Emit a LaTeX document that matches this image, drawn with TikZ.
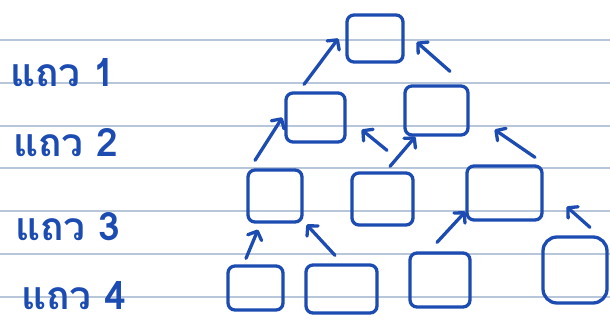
\documentclass[tikz,border=0pt]{standalone}
\usepackage{fontspec}
\newfontfamily\thaifont[Script=Thai]{Loma}
\usetikzlibrary{arrows.meta}
\definecolor{ink}{RGB}{28,76,178}
\definecolor{rule}{RGB}{184,198,218}
\begin{document}
\begin{tikzpicture}[x=1pt,y=-1pt,
  ruleline/.style={rule,line width=1.3pt},
  bx/.style={draw=ink,line width=3.3pt,rounded corners=7pt,inner sep=0pt},
  arr/.style={ink,line width=3.3pt,line cap=round,line join=round,-{Straight Barb[length=7pt,width=15pt,round]}},
  lbl/.style={ink,anchor=base west,inner sep=0pt,text depth=0pt,font=\thaifont\bfseries\fontsize{39}{41}\selectfont}]
\useasboundingbox (0,0) rectangle (610,327);
\fill[white] (0,0) rectangle (610,327);
\foreach \y in {40,83,126,168,211,254,297} \draw[ruleline] (0,\y) -- (610,\y);
% labels
\node[lbl] (l1) at (10,86) {แถว 1};
\node[lbl] (l2) at (13,156) {แถว 2};
\node[lbl] (l3) at (15,240) {แถว 3};
\node[lbl] (l4) at (21,309) {แถว 4};
% boxes
\node[bx,minimum width=56pt,minimum height=47pt] (r1) at (375,38.5) {};
\node[bx,minimum width=59pt,minimum height=49pt] (r2a) at (315.5,117.5) {};
\node[bx,minimum width=63pt,minimum height=49pt] (r2b) at (436.5,110.5) {};
\node[bx,minimum width=54pt,minimum height=52pt] (r3a) at (275,196) {};
\node[bx,minimum width=61pt,minimum height=52pt] (r3b) at (382.5,199) {};
\node[bx,minimum width=75pt,minimum height=54pt] (r3c) at (504.5,193) {};
\node[bx,minimum width=55pt,minimum height=44pt] (r4a) at (255.5,288) {};
\node[bx,minimum width=71pt,minimum height=48pt] (r4b) at (341.5,289) {};
\node[bx,minimum width=60pt,minimum height=54pt] (r4c) at (440,280) {};
\node[bx,minimum width=64pt,minimum height=66pt,rounded corners=14pt] (r4d) at (575,270) {};
% arrows
\draw[arr] ([xshift=-11.5pt,yshift=7pt]r2a.north) -- ([xshift=-7pt]r1.west);
\draw[arr] ([xshift=13.5pt,yshift=13pt]r2b.north) -- ([xshift=12pt,yshift=-3.5pt]r1.east);
\draw[arr] ([xshift=-20pt,yshift=8pt]r3a.north) -- ([xshift=-2pt]r2a.west);
\draw[arr] ([xshift=4.5pt,yshift=21pt]r3b.north) -- ([xshift=15pt,yshift=14pt]r2a.south east);
\draw[arr] ([xshift=7.5pt,yshift=5pt]r3b.north) -- ([xshift=12pt]r2b.south west);
\draw[arr] ([xshift=30.5pt,yshift=7pt]r3c.north) -- ([xshift=25pt,yshift=7pt]r2b.south east);
\draw[arr] ([xshift=-9.5pt,yshift=6pt]r4a.north) -- ([xshift=-17pt,yshift=-6pt]r3a.south);
\draw[arr] ([xshift=-6.5pt,yshift=8pt]r4b.north) -- ([xshift=3pt,yshift=-1pt]r3a.south east);
\draw[arr] ([xshift=-3pt,yshift=9pt]r4c.north) -- ([yshift=10pt]r3c.south west);
\draw[arr] ([xshift=15pt,yshift=8pt]r4d.north) -- ([xshift=23pt,yshift=15pt]r3c.south east);
\end{tikzpicture}
\end{document}
